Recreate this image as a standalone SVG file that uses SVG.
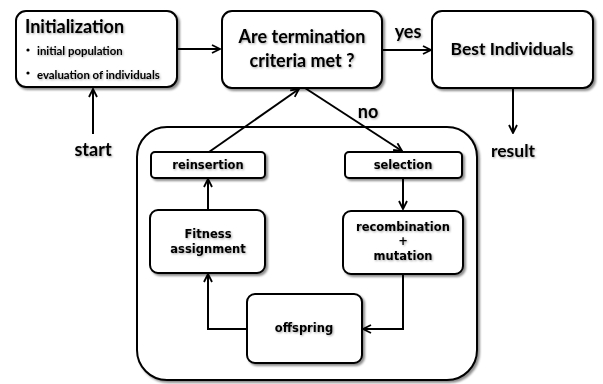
<svg xmlns="http://www.w3.org/2000/svg" width="603" height="384" viewBox="0 0 603 384">
<defs>
<filter id="sh" x="-10%" y="-10%" width="130%" height="130%">
<feDropShadow dx="2" dy="2" stdDeviation="1.2" flood-color="#000" flood-opacity="0.45"/>
</filter>
<filter id="tsh" x="-10%" y="-20%" width="130%" height="150%">
<feDropShadow dx="1" dy="1" stdDeviation="0.8" flood-color="#000" flood-opacity="0.35"/>
</filter>
<marker id="ah" viewBox="0 0 10 10" refX="9" refY="5" markerWidth="10" markerHeight="10" markerUnits="userSpaceOnUse" orient="auto">
<path d="M1,1 L9,5 L1,9" fill="none" stroke="#000" stroke-width="1.8"/>
</marker>
</defs>
<style>
.box{fill:#fff;stroke:#000;stroke-width:2;filter:url(#sh)}
.c{fill:none;stroke:#000;stroke-width:2}
.a{marker-end:url(#ah)}
.big{font-family:Lato,"Liberation Sans",sans-serif;font-weight:bold;fill:#000;filter:url(#tsh)}
.sm{font-family:"DejaVu Sans","Liberation Sans",sans-serif;font-weight:bold;font-size:11.5px;fill:#000;text-anchor:middle;filter:url(#tsh)}
</style>
<rect width="603" height="384" fill="#fff"/>
<g id="container"><rect class="box" x="137" y="127" width="340" height="253" rx="30"/></g>
<g id="connectors">
<path class="c a" d="M177,49 H220"/>
<path class="c a" d="M382,50 H431"/>
<path class="c a" d="M93,134 V89"/>
<path class="c a" d="M513,88 V133"/>
<path class="c a" d="M209,152 L299,89"/>
<path class="c a" d="M305,88 L402,151"/>
<path class="c a" d="M403,178 V209"/>
<path class="c a" d="M403,274 V329 H363"/>
<path class="c a" d="M247,329 H208 V274"/>
<path class="c a" d="M208,210 V179"/>
</g>
<g id="initialization">
<rect class="box" x="16" y="11" width="161" height="76" rx="10"/>
<text class="big" x="25" y="33" font-size="18">Initialization</text>
<circle cx="28" cy="50" r="1.6"/>
<circle cx="28" cy="73" r="1.6"/>
<text class="big" x="37" y="55" font-size="11.4">initial population</text>
<text class="big" x="37" y="79" font-size="11.4">evaluation of individuals</text>
</g>
<g id="termination">
<rect class="box" x="222" y="11" width="160" height="77" rx="10"/>
<text class="big" x="302" y="43" font-size="18" text-anchor="middle">Are termination</text>
<text class="big" x="302" y="67" font-size="18" text-anchor="middle">criteria met ?</text>
</g>
<g id="best">
<rect class="box" x="432" y="11" width="161" height="77" rx="10"/>
<text class="big" x="512" y="55" font-size="17.5" text-anchor="middle">Best Individuals</text>
</g>
<g id="labels">
<text class="big" x="408" y="38" font-size="18" text-anchor="middle">yes</text>
<text class="big" x="368" y="118" font-size="18" text-anchor="middle">no</text>
<text class="big" x="93" y="156" font-size="18" text-anchor="middle">start</text>
<text class="big" x="513" y="157" font-size="17.5" text-anchor="middle">result</text>
</g>
<g id="reinsertion">
<rect class="box" x="151" y="152" width="114" height="26" rx="4"/>
<text class="sm" x="208" y="169">reinsertion</text>
</g>
<g id="selection">
<rect class="box" x="345" y="152" width="117" height="26" rx="4"/>
<text class="sm" x="403" y="169">selection</text>
</g>
<g id="fitness">
<rect class="box" x="150" y="210" width="115" height="63" rx="8"/>
<text class="sm" x="208" y="238">Fitness</text>
<text class="sm" x="208" y="253">assignment</text>
</g>
<g id="recombination">
<rect class="box" x="343" y="211" width="120" height="63" rx="8"/>
<text class="sm" x="403" y="231">recombination</text>
<text class="sm" x="403" y="245">+</text>
<text class="sm" x="403" y="260">mutation</text>
</g>
<g id="offspring">
<rect class="box" x="247" y="294" width="115" height="69" rx="8"/>
<text class="sm" x="304" y="332">offspring</text>
</g>
</svg>
